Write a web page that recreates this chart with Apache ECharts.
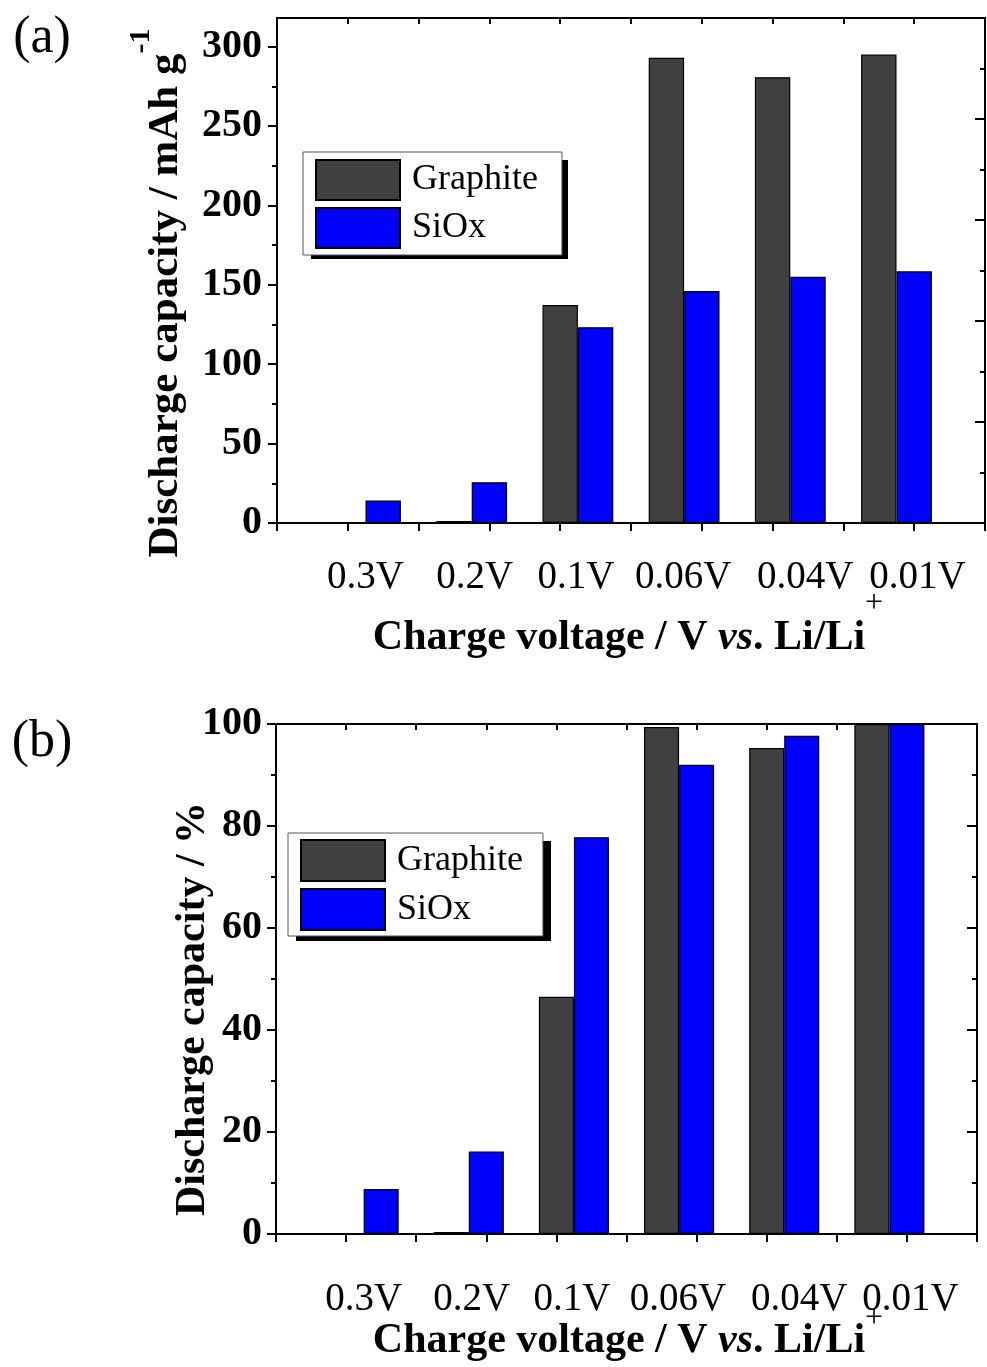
<!DOCTYPE html>
<html>
<head>
<meta charset="utf-8">
<script src="https://cdn.jsdelivr.net/npm/echarts@6/dist/echarts.min.js"></script>
<style>
  html, body { margin: 0; padding: 0; background: #fff; }
  #chart { width: 987px; height: 1367px; }
</style>
</head>
<body>
<div id="chart"></div>
<script>
// Charge cut-off voltages (categories)
const categories = ['0.3V', '0.2V', '0.1V', '0.06V', '0.04V', '0.01V'];

// (a) discharge capacity, mAh g-1
const graphiteCap = [0, 1.3, 137.2, 293, 280.7, 295];
const siOxCap = [14.1, 25.7, 123.3, 146.1, 155, 158.5];

// (b) discharge capacity relative to the 0.01V value, %
const graphitePct = [0, 0.4, 46.5, 99.4, 95.3, 100];
const siOxPct = [8.8, 16.2, 77.8, 92.0, 97.7, 100];

// tick values
const capTicks = [0, 50, 100, 150, 200, 250, 300];
const capMinorTicks = [25, 75, 125, 175, 225, 275];

// horizontal nudge (px) of each category label from its group centre
const labelNudge = [0, 3, -2, -1, 15, 21];

const SERIF = '"Liberation Serif", "Times New Roman", serif';
const BLACK = '#000';
const GRAPHITE_COLOR = '#404040';
const SIOX_COLOR = '#0000ff';

const catIndex = categories.map((c, i) => i + 1);
const pairs = (vals) => vals.map((v, i) => [catIndex[i], v]);

const frameLine = { show: true, onZero: false, lineStyle: { color: BLACK, width: 2 } };
const tickLine = { color: BLACK, width: 2 };

// one rich style per category label, padded to shift it sideways
const labelRich = {};
labelNudge.forEach((d, i) => {
  labelRich['c' + i] = {
    fontFamily: SERIF, fontSize: 39, color: BLACK,
    padding: [0, Math.max(0, -2 * d), 0, Math.max(0, 2 * d)]
  };
});

// x axes: categories sit at 1..6, frame spans 5/6 of a slot beyond each end,
// ticks every 2/3 of a slot counted from the left edge
const X_MIN = 1 / 6, X_MAX = 41 / 6, X_STEP = 2 / 3;

function bottomX(gridIndex, margin) {
  return {
    type: 'value', gridIndex, position: 'bottom',
    min: X_MIN, max: X_MAX, interval: X_STEP,
    axisLine: frameLine,
    axisTick: { show: true, inside: false, length: 8, lineStyle: tickLine },
    axisLabel: {
      show: true, customValues: catIndex,
      formatter: (v) => {
        const i = Math.round(v) - 1;
        return '{c' + i + '|' + categories[i] + '}';
      },
      rich: labelRich,
      color: BLACK, fontFamily: SERIF, fontSize: 39, margin
    },
    splitLine: { show: false }
  };
}
function topX(gridIndex) {
  return {
    type: 'value', gridIndex, position: 'top',
    min: X_MIN, max: X_MAX, interval: X_STEP,
    axisLine: frameLine,
    axisTick: { show: true, inside: true, length: 6, lineStyle: tickLine },
    axisLabel: { show: false },
    splitLine: { show: false }
  };
}
function rightY(gridIndex) {
  return {
    type: 'value', gridIndex, position: 'right',
    min: 0, max: 10, interval: 2,
    axisLine: frameLine,
    axisTick: { show: true, inside: true, length: 10, lineStyle: tickLine },
    minorTick: { show: true, splitNumber: 2, length: 5, lineStyle: tickLine },
    axisLabel: { show: false },
    splitLine: { show: false }, minorSplitLine: { show: false }
  };
}
const yLabel = { color: BLACK, fontFamily: SERIF, fontSize: 40, fontWeight: 'bold' };

function barSeries(name, color, vals, xAxisIndex, yAxisIndex) {
  return {
    type: 'bar', name, xAxisIndex, yAxisIndex,
    data: pairs(vals),
    barWidth: '33.33%', barGap: '0%',
    itemStyle: { color, borderColor: BLACK, borderWidth: 1.2 },
    silent: true
  };
}

function legendBox(left, top, itemHeight, padding) {
  return {
    data: ['Graphite', 'SiOx'], orient: 'vertical',
    left, top, itemWidth: 84, itemHeight, itemGap: 6, padding,
    icon: 'rect', selectedMode: false, z: 6,
    backgroundColor: '#fff', borderColor: '#555', borderWidth: 1,
    textStyle: { color: BLACK, fontFamily: SERIF, fontSize: 36, lineHeight: itemHeight, padding: [0, 0, 0, 7] }
  };
}

// solid drop shadow behind a legend box
function legendShadow(x, y, width, height) {
  return { type: 'rect', z: 1, silent: true, shape: { x, y, width, height }, style: { fill: BLACK } };
}

// axis title with a raised "+" (lift = how far the superscript sits above the text middle)
function xTitle(cx, cy, lift) {
  return {
    type: 'text', x: cx, y: cy, silent: true, z: 10,
    style: {
      text: '{b|Charge voltage / V }{bi|vs}{b|. Li/Li}{s|+}',
      align: 'center', verticalAlign: 'middle', fill: BLACK,
      rich: {
        b: { fontFamily: SERIF, fontSize: 42, fontWeight: 'bold', lineHeight: 100, fill: BLACK },
        bi: { fontFamily: SERIF, fontSize: 42, fontWeight: 'bold', fontStyle: 'italic', lineHeight: 100, fill: BLACK },
        s: { fontFamily: SERIF, fontSize: 32, verticalAlign: 'middle', padding: [0, 0, 2 * lift, 0], fill: BLACK }
      }
    }
  };
}

const chart = echarts.init(document.getElementById('chart'), null, { renderer: 'canvas' });
chart.setOption({
  animation: false,
  backgroundColor: '#fff',
  grid: [
    { left: 277, top: 18, width: 708, height: 505 },
    { left: 276, top: 724, width: 701, height: 510 }
  ],
  xAxis: [bottomX(0, 35), topX(0), bottomX(1, 46), topX(1)],
  yAxis: [
    {
      type: 'value', gridIndex: 0, position: 'left', min: 0, max: 318,
      axisLine: frameLine,
      axisTick: { show: true, customValues: capTicks, length: 9, lineStyle: tickLine },
      axisLabel: Object.assign({ customValues: capTicks, margin: 15 }, yLabel),
      splitLine: { show: false }
    },
    {
      type: 'value', gridIndex: 0, position: 'left', min: 0, max: 318,
      axisLine: { show: false },
      axisTick: { show: true, customValues: capMinorTicks, length: 5, lineStyle: tickLine },
      axisLabel: { show: false },
      splitLine: { show: false }
    },
    rightY(0),
    {
      type: 'value', gridIndex: 1, position: 'left', min: 0, max: 100, interval: 20,
      axisLine: frameLine,
      axisTick: { show: true, length: 9, lineStyle: tickLine },
      minorTick: { show: true, splitNumber: 2, length: 5, lineStyle: tickLine },
      axisLabel: Object.assign({ margin: 14 }, yLabel),
      splitLine: { show: false }, minorSplitLine: { show: false }
    },
    rightY(1)
  ],
  legend: [
    legendBox(303, 152, 40, [7, 24, 6, 12]),
    legendBox(288, 833, 41, [6, 20, 5, 12])
  ],
  series: [
    barSeries('Graphite', GRAPHITE_COLOR, graphiteCap, 0, 0),
    barSeries('SiOx', SIOX_COLOR, siOxCap, 0, 0),
    barSeries('Graphite', GRAPHITE_COLOR, graphitePct, 2, 3),
    barSeries('SiOx', SIOX_COLOR, siOxPct, 2, 3)
  ],
  graphic: [
    legendShadow(311, 160, 257, 99),
    legendShadow(296, 841, 255, 100),
    { type: 'text', x: 42, y: 38, silent: true,
      style: { text: '(a)', fontFamily: SERIF, fontSize: 52, fill: BLACK, align: 'center', verticalAlign: 'middle' } },
    { type: 'text', x: 42, y: 742, silent: true,
      style: { text: '(b)', fontFamily: SERIF, fontSize: 52, fill: BLACK, align: 'center', verticalAlign: 'middle' } },
    xTitle(628, 638, 34),
    xTitle(628, 1341, 22),
    { type: 'text', x: 166, y: 293, rotation: Math.PI / 2, silent: true,
      style: {
        text: '{m|Discharge capacity / mAh g}{s|-1}',
        align: 'center', verticalAlign: 'middle', fill: BLACK,
        rich: {
          m: { fontFamily: SERIF, fontSize: 43, fontWeight: 'bold', lineHeight: 80, fill: BLACK },
          s: { fontFamily: SERIF, fontSize: 30, fontWeight: 'bold', lineHeight: 36, verticalAlign: 'top', fill: BLACK }
        }
      } },
    { type: 'text', x: 193, y: 1009, rotation: Math.PI / 2, silent: true,
      style: { text: 'Discharge capacity / %', fontFamily: SERIF, fontSize: 42, fontWeight: 'bold',
               fill: BLACK, align: 'center', verticalAlign: 'middle' } }
  ]
});
</script>
</body>
</html>
